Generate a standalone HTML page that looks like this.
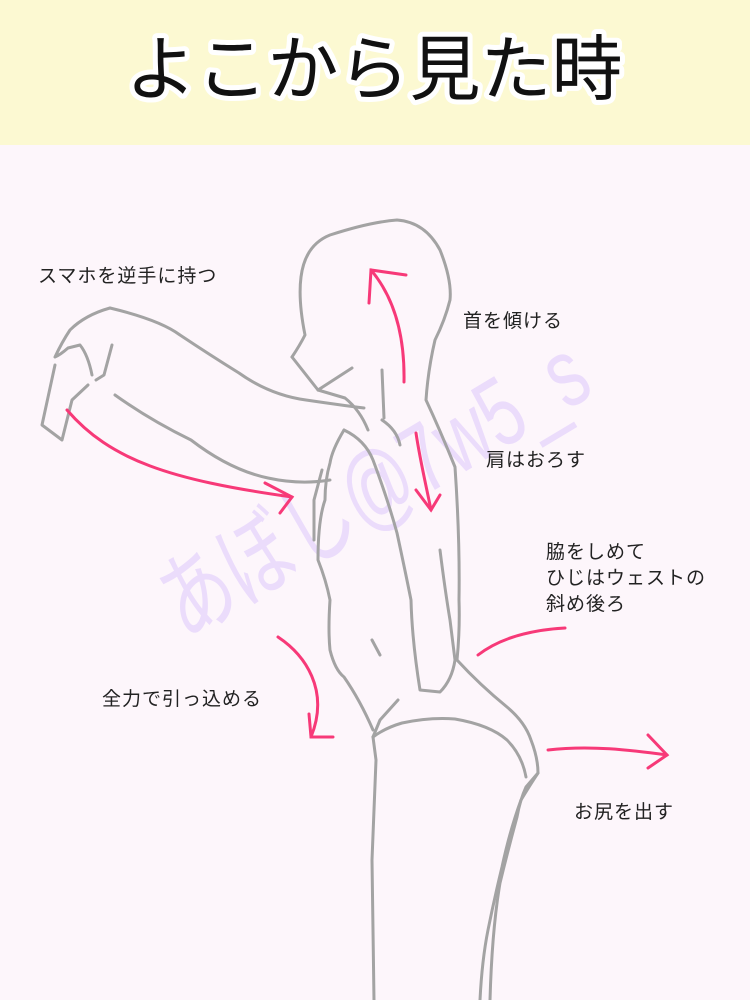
<!DOCTYPE html>
<html><head><meta charset="utf-8"><style>
html,body{margin:0;padding:0}
body{width:750px;height:1000px;background:#fdf6fb;position:relative;overflow:hidden;font-family:"Liberation Sans","Noto Sans CJK JP",sans-serif}
.banner{position:absolute;left:0;top:0;width:750px;height:145px;background:#fcf9d2}
.t{position:absolute;font-size:19px;color:#222;white-space:nowrap;letter-spacing:1px;line-height:26px}
</style></head><body>
<div class="banner"></div>
<svg width="750" height="1000" style="position:absolute;left:0;top:0">
<text x="374" y="94" text-anchor="middle" font-size="71" font-family="Noto Sans CJK JP, sans-serif" fill="#111" stroke="#fff" stroke-width="10" paint-order="stroke" stroke-linejoin="round">よこから見た時</text>
<g transform="translate(185,640) rotate(-31) scale(1,1.35)">
<text x="0" y="0" font-size="72" fill="#ebdcfb" font-family="Liberation Sans, Noto Sans CJK JP, sans-serif" textLength="480" lengthAdjust="spacingAndGlyphs">あぼし@7w5_s</text>
</g>
<g fill="none" stroke="#a3a3a3" stroke-width="3" stroke-linecap="round" stroke-linejoin="round">
<path d="M292,357 Q300,345 305,335 Q298,300 301,277 Q305,245 330,235 Q370,222 397,220 Q425,222 440,250 Q452,280 450,300 Q445,320 435,340 Q428,370 426,400 Q440,430 455,467 Q460,540 459,600 Q460,630 457,660"/>
<path d="M292,357 L318,390 L352,368"/>
<path d="M318,390 L345,398 Q360,410 368,430"/>
<path d="M382,370 L384,418"/>
<path d="M110,308 Q160,320 180,335 Q210,355 239,373 Q270,395 306,400 Q340,405 364,408"/>
<path d="M110,308 Q85,315 70,330 Q62,342 55,357 Q60,355 68,348 L80,345 Q88,355 92,375"/>
<path d="M112,345 L104,375 L96,380"/>
<path d="M55,365 L42,425 L62,440 L72,400 L88,385"/>
<path d="M115,395 Q150,420 191,440 Q230,470 268,478 Q300,485 330,480"/>
<path d="M344,430 Q332,450 330,463 Q325,480 325,500 Q318,520 318,560 Q326,580 330,600 Q328,630 330,650 Q335,670 344,677 Q360,700 373,730"/>
<path d="M344,430 Q365,440 373,460 Q388,500 397,533 Q405,570 411,600 Q412,640 420,690 L440,692 Q452,680 455,660 L450,620 Q445,590 440,550"/>
<path d="M382,420 Q397,430 400,445"/>
<path d="M322,470 L314,500 L314,540"/>
<path d="M372,640 L380,655"/>
<path d="M457,660 Q480,685 507,707 Q525,722 531,740 Q538,758 538,773 Q530,785 521,800 Q510,830 502,867 Q494,900 488,930 Q482,960 480,1000"/>
<path d="M373,737 L380,720 L398,700"/>
<path d="M373,737 Q385,728 402,723 Q430,717 455,719 Q490,725 507,740 Q522,755 526,777"/>
<path d="M373,737 L376,760 L372,860 L374,1000"/>
<path d="M538,773 L526,787 Q520,800 517,817 Q508,850 500,883 Q492,930 490,1000"/>
</g>
<g fill="none" stroke="#f73978" stroke-width="3" stroke-linecap="round">
<path d="M404,382 C405,330 392,295 371,270"/>
<path d="M369,303 L371,270 L406,275"/>
<path d="M416,433 C420,460 426,485 431,510"/>
<path d="M416,490 L431,510 L440,495"/>
<path d="M67,410 C110,460 170,480 292,497"/>
<path d="M265,483 L292,497 L280,513"/>
<path d="M278,637 C305,655 330,690 311,737"/>
<path d="M309,714 L311,737 L333,737"/>
<path d="M478,655 C500,638 530,630 565,628"/>
<path d="M548,750 C590,745 630,750 667,755"/>
<path d="M648,735 L667,755 L648,768"/>
</g>
</svg>
<div class="t" style="left:38px;top:264px">スマホを逆手に持つ</div>
<div class="t" style="left:463px;top:309px">首を傾ける</div>
<div class="t" style="left:486px;top:448px">肩はおろす</div>
<div class="t" style="left:546px;top:540px">脇をしめて<br>ひじはウェストの<br>斜め後ろ</div>
<div class="t" style="left:102px;top:687px">全力で引っ込める</div>
<div class="t" style="left:574px;top:800px">お尻を出す</div>
</body></html>
